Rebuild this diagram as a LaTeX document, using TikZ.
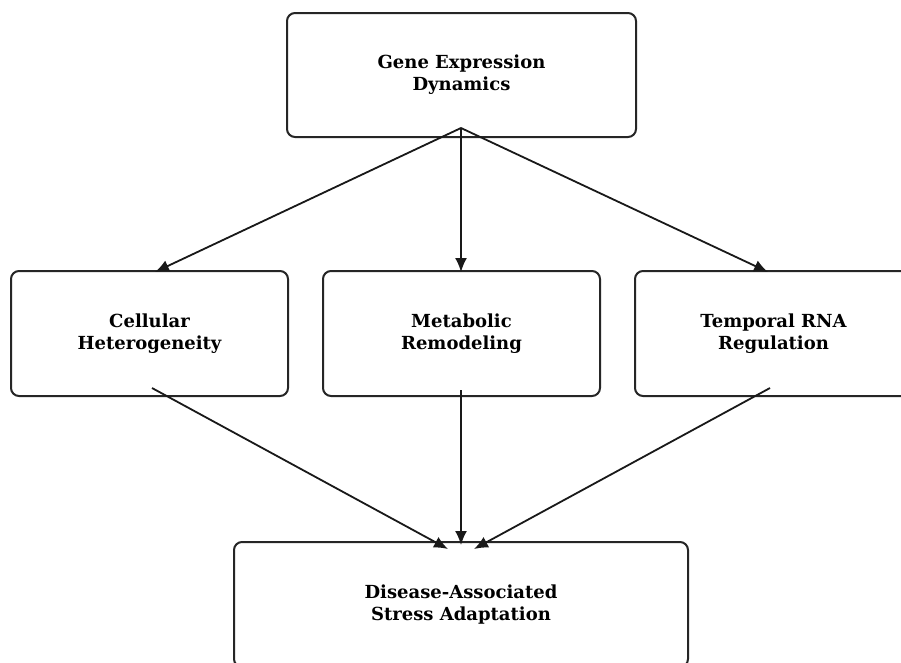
\documentclass[tikz,border=0pt]{standalone}
\usepackage{fontspec}
\setmainfont{DejaVu Serif}
\usetikzlibrary{arrows.meta}
\begin{document}
\begin{tikzpicture}[x=1pt,y=-1pt,
  box/.style={draw=black!85, line width=2pt, rounded corners=8pt, fill=white,
    align=center, font=\fontsize{18}{22}\selectfont\bfseries, inner sep=0pt},
  conn/.style={draw=black!90, line width=1.8pt, -{Latex[length=14pt,width=12pt]}}]
\useasboundingbox (0,0) rectangle (901,662);
\clip (0,0) rectangle (901,662);
\fill[white] (0,0) rectangle (901,662);
\node[box, minimum width=349pt, minimum height=124pt] (gene) at (461.5,75) {Gene Expression\\Dynamics};
\node[box, minimum width=277pt, minimum height=125pt] (cell) at (149.5,333.5) {Cellular\\Heterogeneity};
\node[box, minimum width=277pt, minimum height=125pt] (meta) at (461.5,333.5) {Metabolic\\Remodeling};
\node[box, minimum width=277pt, minimum height=125pt] (temp) at (773.5,333.5) {Temporal RNA\\Regulation};
\node[box, minimum width=454pt, minimum height=125pt] (dis) at (461,604.5) {Disease-Associated\\Stress Adaptation};
\coordinate (gsrc) at (461,128);
\coordinate (cin) at (155,272);
\coordinate (min) at (461,272);
\coordinate (tin) at (768,272);
\coordinate (cout) at (152,388);
\coordinate (mout) at (461,390);
\coordinate (tout) at (770,388);
\coordinate (dl) at (448,549);
\coordinate (dm) at (461,545);
\coordinate (dr) at (474,549);
\draw[conn] (gsrc) -- (cin);
\draw[conn] (gsrc) -- (min);
\draw[conn] (gsrc) -- (tin);
\draw[conn] (cout) -- (dl);
\draw[conn] (mout) -- (dm);
\draw[conn] (tout) -- (dr);
\end{tikzpicture}
\end{document}
